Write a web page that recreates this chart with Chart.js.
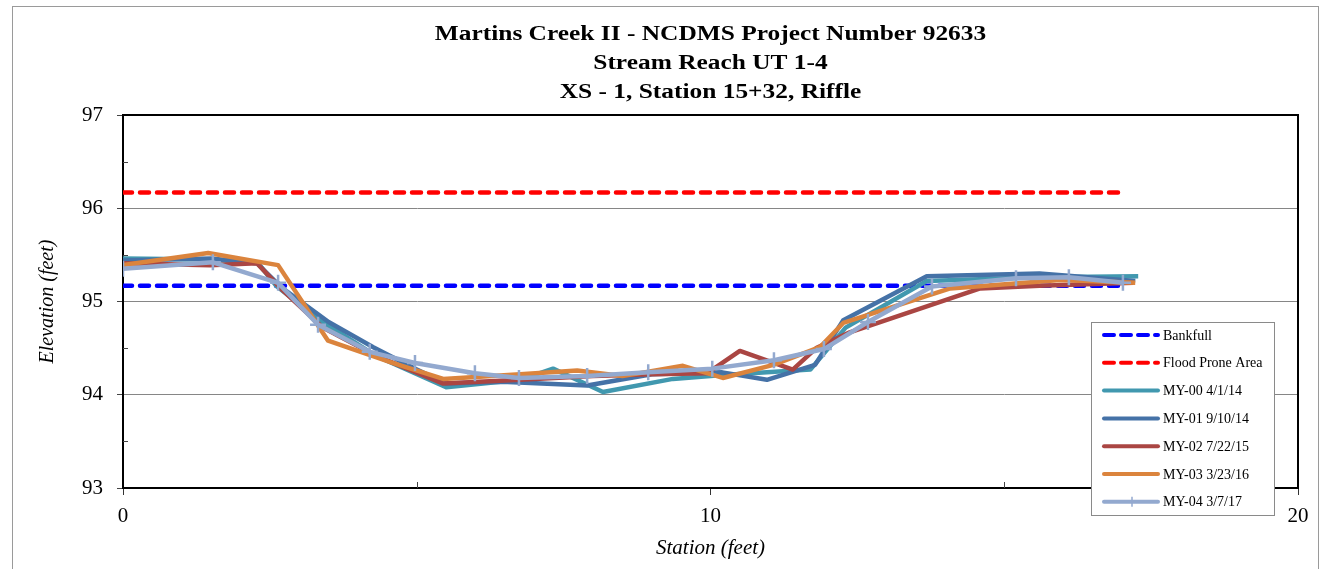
<!DOCTYPE html>
<html>
<head>
<meta charset="utf-8">
<script src="https://cdn.jsdelivr.net/npm/chart.js@4"></script>
<style>
    body { margin: 0; background: #fff; }
    #wrap { width: 1329px; height: 569px; position: relative; }
</style>
</head>
<body>
<div id="wrap"><canvas id="xsChart"></canvas></div>
<script>
// Title lines
const titleLines = [
    'Martins Creek II - NCDMS Project Number 92633',
    'Stream Reach UT 1-4',
    'XS - 1, Station 15+32, Riffle'
];

// Reference elevations (constant lines)
const bankfullStations = [0, 17.03];
const bankfullElev = [95.17, 95.17];
const floodStations = [0, 17.03];
const floodElev = [96.17, 96.17];

// Survey series
const my00Stations = [0, 1.5, 2.3, 2.62, 3.4, 4.3, 5.5, 6.76, 7.32, 8.17, 9.36, 10.16, 10.96, 11.7, 12.3, 13.68, 15.6, 17.28];
const my00Elev = [95.46, 95.45, 95.41, 95.16, 94.78, 94.42, 94.08, 94.16, 94.28, 94.03, 94.17, 94.21, 94.24, 94.27, 94.72, 95.22, 95.26, 95.27];

const my01Stations = [0, 1.5, 2.28, 2.7, 3.5, 4.26, 4.94, 5.5, 6.45, 7.9, 9.0, 10.2, 10.96, 11.78, 12.26, 13.68, 15.6, 17.23];
const my01Elev = [95.44, 95.46, 95.41, 95.15, 94.78, 94.51, 94.29, 94.12, 94.14, 94.1, 94.22, 94.24, 94.16, 94.32, 94.8, 95.27, 95.3, 95.22];

const my02Stations = [0, 1.48, 2.28, 2.7, 3.4, 4.3, 5.45, 6.76, 8.0, 9.0, 9.94, 10.5, 11.4, 11.8, 12.37, 14.59, 15.6, 17.2];
const my02Elev = [95.41, 95.39, 95.41, 95.13, 94.72, 94.42, 94.12, 94.16, 94.2, 94.22, 94.23, 94.47, 94.27, 94.5, 94.67, 95.14, 95.17, 95.2];

const my03Stations = [0, 1.45, 2.64, 3.49, 4.6, 5.45, 6.76, 7.73, 8.5, 9.53, 10.21, 11.07, 11.86, 12.26, 14.08, 15.95, 17.23];
const my03Elev = [95.39, 95.52, 95.39, 94.58, 94.34, 94.17, 94.22, 94.26, 94.2, 94.31, 94.18, 94.32, 94.51, 94.77, 95.14, 95.23, 95.2];

const my04Stations = [0, 1.53, 2.64, 3.32, 4.2, 4.97, 5.99, 6.74, 7.9, 8.94, 10.03, 11.08, 11.93, 12.68, 13.77, 15.2, 16.1, 17.02];
const my04Elev = [95.35, 95.42, 95.2, 94.75, 94.46, 94.34, 94.23, 94.18, 94.2, 94.24, 94.28, 94.37, 94.49, 94.78, 95.16, 95.25, 95.26, 95.2];

const seriesLabels = ['Bankfull', 'Flood Prone Area', 'MY-00 4/1/14', 'MY-01 9/10/14', 'MY-02 7/22/15', 'MY-03 3/23/16', 'MY-04 3/7/17'];
const seriesColors = ['#0000FF', '#FF0000', '#4198AF', '#4572A7', '#AA4643', '#DB843D', '#93A9CF'];

const xTicks = [0, 10, 20];
const yTicks = [93, 94, 95, 96, 97];

const toPoints = (xs, ys) => xs.map((x, i) => ({ x: x, y: ys[i] }));

const SERIF = '"Liberation Serif", "Times New Roman", serif';
Chart.defaults.font.family = SERIF;
Chart.defaults.color = '#000';

function makeDataset(i, xs, ys, dashed) {
    return {
        label: seriesLabels[i],
        data: toPoints(xs, ys),
        borderColor: seriesColors[i],
        backgroundColor: seriesColors[i],
        borderWidth: 4.5,
        borderDash: dashed ? [9, 8] : [],
        borderCapStyle: dashed ? 'round' : 'butt',
        borderJoinStyle: 'round',
        showLine: true,
        tension: 0,
        pointRadius: 0,
        order: 6 - i
    };
}

const datasets = [
    makeDataset(0, bankfullStations, bankfullElev, true),
    makeDataset(1, floodStations, floodElev, true),
    makeDataset(2, my00Stations, my00Elev, false),
    makeDataset(3, my01Stations, my01Elev, false),
    makeDataset(4, my02Stations, my02Elev, false),
    makeDataset(5, my03Stations, my03Elev, false),
    makeDataset(6, my04Stations, my04Elev, false)
];
// MY-04 carries plus markers
datasets[6].pointStyle = 'cross';
datasets[6].pointRadius = 8;
datasets[6].pointBorderWidth = 2.5;
datasets[6].pointBorderColor = seriesColors[6];

// Frame, plot border, minor ticks, title and legend
const decorPlugin = {
    id: 'decor',
    beforeDraw(chart) {
        const ctx = chart.ctx;
        ctx.save();
        ctx.fillStyle = '#fff';
        ctx.fillRect(0, 0, chart.width, chart.height);
        ctx.strokeStyle = '#9a9a9a';
        ctx.lineWidth = 1;
        ctx.strokeRect(12.5, 6.5, 1306, 600);
        ctx.restore();
    },
    afterDraw(chart) {
        const ctx = chart.ctx;
        const area = chart.chartArea;
        const xs = chart.scales.x;
        const ys = chart.scales.y;
        ctx.save();

        // plot area border
        ctx.strokeStyle = '#000';
        ctx.lineWidth = 2;
        ctx.beginPath();
        ctx.moveTo(area.left, area.top);
        ctx.lineTo(area.right, area.top);
        ctx.lineTo(area.right, area.bottom);
        ctx.stroke();

        // minor ticks
        ctx.lineWidth = 1;
        ctx.strokeStyle = '#444';
        [93.5, 94.5, 95.5, 96.5].forEach(v => {
            const py = Math.round(ys.getPixelForValue(v)) + 0.5;
            ctx.beginPath();
            ctx.moveTo(area.left, py);
            ctx.lineTo(area.left + 5, py);
            ctx.stroke();
        });
        [5, 15].forEach(v => {
            const px = Math.round(xs.getPixelForValue(v)) + 0.5;
            ctx.beginPath();
            ctx.moveTo(px, area.bottom);
            ctx.lineTo(px, area.bottom - 6);
            ctx.stroke();
        });

        // title (source is drawn slightly wide)
        ctx.fillStyle = '#000';
        ctx.font = 'bold 20px ' + SERIF;
        ctx.textAlign = 'center';
        ctx.textBaseline = 'middle';
        const cx = (area.left + area.right) / 2;
        titleLines.forEach((t, i) => {
            ctx.save();
            ctx.translate(cx, 35 + i * 29);
            ctx.scale(1.27, 1);
            ctx.fillText(t, 0, 0);
            ctx.restore();
        });

        // legend
        const lx = 1091, ly = 322, lw = 183, lh = 193;
        ctx.fillStyle = '#fff';
        ctx.fillRect(lx, ly, lw, lh);
        ctx.strokeStyle = '#8a8a8a';
        ctx.lineWidth = 1;
        ctx.strokeRect(lx + 0.5, ly + 0.5, lw, lh);
        ctx.font = '14px ' + SERIF;
        ctx.textAlign = 'left';
        chart.data.datasets.forEach((ds, i) => {
            const y = 335 + i * 27.8;
            ctx.strokeStyle = ds.borderColor;
            ctx.lineWidth = 4;
            ctx.lineCap = 'round';
            ctx.setLineDash(ds.borderDash.length ? [10, 7] : []);
            ctx.beginPath();
            ctx.moveTo(1104, y);
            ctx.lineTo(1158, y);
            ctx.stroke();
            ctx.setLineDash([]);
            if (ds.pointStyle === 'cross') {
                ctx.lineWidth = 1.5;
                ctx.lineCap = 'butt';
                ctx.beginPath();
                ctx.moveTo(1132, y - 5);
                ctx.lineTo(1132, y + 5);
                ctx.stroke();
            }
            ctx.fillStyle = '#000';
            ctx.fillText(ds.label, 1163, y + 1);
        });
        ctx.restore();
    }
};

new Chart(document.getElementById('xsChart'), {
    type: 'scatter',
    data: { datasets: datasets },
    plugins: [decorPlugin],
    options: {
        responsive: true,
        maintainAspectRatio: false,
        animation: false,
        layout: { padding: { top: 115, right: 31, bottom: 0, left: 0 } },
        plugins: {
            legend: { display: false },
            title: { display: false },
            tooltip: { enabled: false }
        },
        scales: {
            x: {
                type: 'linear',
                min: 0,
                max: 20,
                afterFit(scale) { scale.height = 81; },
                afterBuildTicks(scale) { scale.ticks = xTicks.map(v => ({ value: v })); },
                ticks: { font: { size: 21 }, padding: 9, maxRotation: 0 },
                grid: { drawOnChartArea: false, drawTicks: true, tickLength: 7, tickColor: '#333' },
                border: { color: '#000', width: 2 },
                title: { display: true, text: 'Station (feet)', font: { size: 21, style: 'italic' }, padding: { top: 0, bottom: 8 } }
            },
            y: {
                type: 'linear',
                min: 93,
                max: 97,
                afterFit(scale) { scale.width = 123; },
                afterBuildTicks(scale) { scale.ticks = yTicks.map(v => ({ value: v })); },
                ticks: { font: { size: 21 }, padding: 14 },
                grid: { color: '#868686', lineWidth: 1, drawTicks: true, tickLength: 6, tickColor: '#444' },
                border: { color: '#000', width: 2 },
                title: { display: true, text: 'Elevation (feet)', font: { size: 20, style: 'italic' }, padding: { top: 36, bottom: 0 } }
            }
        }
    }
});
</script>
</body>
</html>
